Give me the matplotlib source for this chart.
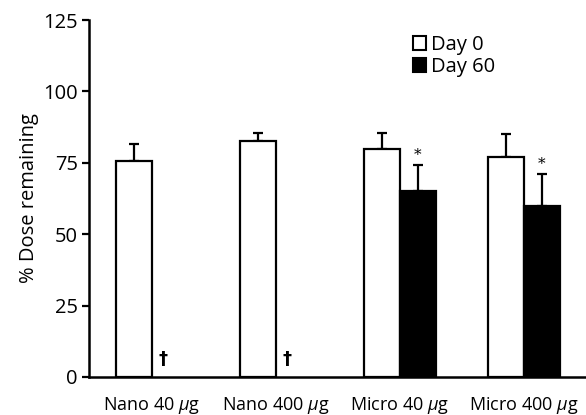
import matplotlib
matplotlib.use("Agg")
import matplotlib.pyplot as plt
import numpy as np

categories = ["Nano 40 $\\mu$g", "Nano 400 $\\mu$g", "Micro 40 $\\mu$g", "Micro 400 $\\mu$g"]
day0 = [75.6, 82.8, 79.9, 77.2]
day0_err = [6.0, 2.6, 5.5, 7.9]
day60 = [0, 0, 65.1, 60.0]
day60_err = [0, 0, 9.3, 11.0]
day60_mark = ["†", "†", "*", "*"]
yticks = [0, 25, 50, 75, 100, 125]

plt.rcParams['font.family'] = ['Open Sans', 'DejaVu Sans']
plt.rcParams['mathtext.fontset'] = 'custom'
plt.rcParams['mathtext.it'] = 'Open Sans:italic'
plt.rcParams['mathtext.rm'] = 'Open Sans'
plt.rcParams['mathtext.default'] = 'it'

fig = plt.figure(figsize=(5.86, 4.15), dpi=100)
ax = fig.add_axes([89/586, 1-377/415, 1-89/586, (377-20)/415])

x = np.arange(len(categories))
w = 0.29
ax.bar(x - w/2, day0, w, color='white', edgecolor='black', linewidth=1.6, label='Day 0', zorder=2)
ax.errorbar(x - w/2, day0, yerr=[np.zeros(4), day0_err], fmt='none', ecolor='black',
            elinewidth=1.6, capsize=3.5, capthick=1.6, zorder=1)
mask = np.array(day60) > 0
ax.bar(x[mask] + w/2, np.array(day60)[mask], w, color='black', edgecolor='black', linewidth=1.6,
       label='Day 60', zorder=2)
ax.errorbar(x[mask] + w/2, np.array(day60)[mask], yerr=[np.zeros(mask.sum()), np.array(day60_err)[mask]],
            fmt='none', ecolor='black', elinewidth=1.6, capsize=3.5, capthick=1.6, zorder=1)

for i in range(len(categories)):
    if day60[i] == 0:
        ax.text(x[i] + 0.09, 3, day60_mark[i], ha='center', va='bottom', fontsize=13, fontweight='bold',
                family='DejaVu Sans')
    else:
        ax.text(x[i] + w/2, day60[i] + day60_err[i] + 1.0, day60_mark[i], ha='center', va='bottom',
                fontsize=11, family='DejaVu Serif')

ax.set_xlim(-0.508, 3.5)
ax.set_ylim(0, 125)
ax.set_yticks(yticks)
ax.set_xticks(x)
ax.set_xticklabels(categories, fontsize=13)
ax.tick_params(axis='x', length=0, pad=13)
ax.tick_params(axis='y', direction='out', length=5, width=1.6, labelsize=14.5, pad=3)
for s in ['top', 'right']:
    ax.spines[s].set_visible(False)
for s in ['left', 'bottom']:
    ax.spines[s].set_linewidth(1.8)
ax.set_ylabel('% Dose remaining', fontsize=14.5, labelpad=3)

leg = ax.legend(loc='upper left', bbox_to_anchor=(0.636, 0.98), frameon=False, fontsize=14.5,
                handlelength=0.65, handleheight=0.65, handletextpad=0.25, labelspacing=0.1,
                borderaxespad=0)
for h in leg.legend_handles:
    h.set_linewidth(1.5)

fig.savefig('out.png', dpi=100)
